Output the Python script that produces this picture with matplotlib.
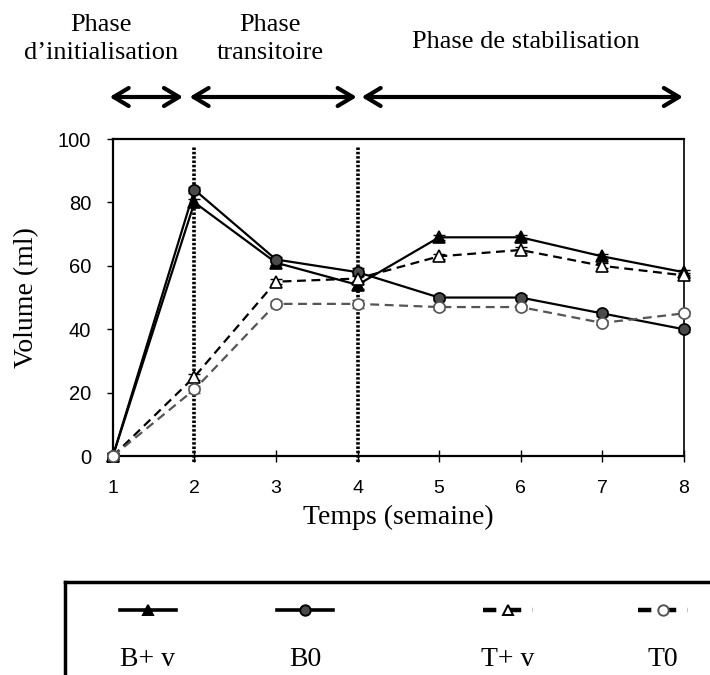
import numpy as np
import matplotlib.pyplot as plt
import matplotlib.transforms as mtransforms
from matplotlib.patches import FancyArrowPatch
from matplotlib.lines import Line2D

weeks = [1, 2, 3, 4, 5, 6, 7, 8]
b_plus_v = [0, 80, 61, 54, 69, 69, 63, 58]
b0 = [0, 84, 62, 58, 50, 50, 45, 40]
t_plus_v = [0, 25, 55, 56, 63, 65, 60, 57]
t0 = [0, 21, 48, 48, 47, 47, 42, 45]
err = [0.8, 1.0, 0.8, 1.2, 0.8, 0.8, 0.8, 0.8]

phase_labels = ["Phase\nd\u2019initialisation", "Phase\ntransitoire", "Phase de stabilisation"]
phase_bounds = [(1, 2), (2, 4), (4, 8)]
legend_labels = ["B+ v", "B0", "T+ v", "T0"]

serif = "Liberation Serif"
sans = "Liberation Sans"

fig = plt.figure(figsize=(7.1, 6.75), dpi=100)
ax = fig.add_axes([0.159, 0.3244, 0.804, 0.4696])

# series: (values, linestyle, line colour, marker, face, edge)
styles = [
    (b_plus_v, "-", "black", "^", "black", "black"),
    (b0, "-", "black", "o", "#4a4a4a", "black"),
    (t_plus_v, "--", "black", "^", "white", "black"),
    (t0, "--", "#555555", "o", "white", "#555555"),
]
for vals, ls, col, mk, fc, ec in styles:
    ax.errorbar(weeks, vals, yerr=err, fmt="none", ecolor=col, elinewidth=1, capsize=4, clip_on=False)
    ax.plot(weeks, vals, linestyle=ls, color=col, lw=1.6, dashes=(4, 2.5) if ls == "--" else (None, None),
            marker=mk, markerfacecolor=fc, markeredgecolor=ec, markersize=8, markeredgewidth=1.2,
            clip_on=False, zorder=3)

# phase separators
for xv in [2, 4]:
    ax.plot([xv, xv], [-2, 97.5], color="black", lw=2.6, linestyle=(0, (0.7, 0.5)), clip_on=False, zorder=2)

ax.set_xlim(1, 8)
ax.set_ylim(0, 100)
ax.set_xticks(weeks)
ax.set_yticks(np.arange(0, 101, 20))
ax.tick_params(axis="x", direction="inout", length=8, width=1, pad=13, labelsize=14)
ax.tick_params(axis="y", direction="out", length=4.5, width=1, pad=11, labelsize=14.5)
for lab in ax.get_xticklabels() + ax.get_yticklabels():
    lab.set_fontfamily(sans)
for sp in ax.spines.values():
    sp.set_linewidth(1.6)
ax.spines["right"].set_linewidth(1.2)

ax.set_xlabel("Temps (semaine)", fontfamily=serif, fontsize=20, labelpad=6)
ax.set_ylabel("Volume (ml)", fontfamily=serif, fontsize=20)
ax.yaxis.set_label_coords(-0.13, 0.5)

# phase arrows and titles (x in data, y in figure)
trans = mtransforms.blended_transform_factory(ax.transData, fig.transFigure)
arrow_y = 1 - 97 / 675
offsets = [(-0.04, -0.14), (-0.06, -0.01), (0.05, -0.01)]
text_x = [0.853, 2.925, 6.06]
text_y = [1 - 39 / 675, 1 - 39 / 675, 1 - 42 / 675]
for (x0, x1), (d0, d1), lab, tx, ty in zip(phase_bounds, offsets, phase_labels, text_x, text_y):
    arr = FancyArrowPatch((x0 + d0, arrow_y), (x1 + d1, arrow_y),
                          arrowstyle="<->,head_length=6,head_width=3.6", lw=3, color="black",
                          transform=trans, clip_on=False, mutation_scale=1.8,
                          shrinkA=0, shrinkB=0)
    fig.add_artist(arr)
    fig.text(tx, ty, lab, transform=trans, ha="center", va="center", fontfamily=serif,
             fontsize=19, linespacing=1.4)

# legend box at the bottom (open at right and bottom)
box_top = 1 - 582 / 675
fig.add_artist(Line2D([65 / 710, 1.0], [box_top, box_top], color="black", lw=2.5))
fig.add_artist(Line2D([65 / 710, 65 / 710], [0, box_top], color="black", lw=2.5))
leg_x = [148, 305, 508, 663]
for (vals, ls, col, mk, fc, ec), lx, lab in zip(styles, leg_x, legend_labels):
    y = 1 - 610 / 675
    half = 28 if ls == "-" else 25
    xs = np.array([lx - half, lx + half]) / 710
    fig.add_artist(Line2D(xs, [y, y], linestyle=ls, color="black", lw=2.6 if ls == "-" else 3.2,
                          dashes=(3, 2.6) if ls == "--" else (None, None)))
    fig.add_artist(Line2D([lx / 710], [y], marker=mk, markerfacecolor=fc, markeredgecolor=ec,
                          markersize=7.5, markeredgewidth=1.4, linestyle="none"))
    fig.text(lx / 710, 1 - 660 / 675, lab, ha="center", va="center", fontfamily=serif, fontsize=20)

fig.savefig("out.png", dpi=100)
